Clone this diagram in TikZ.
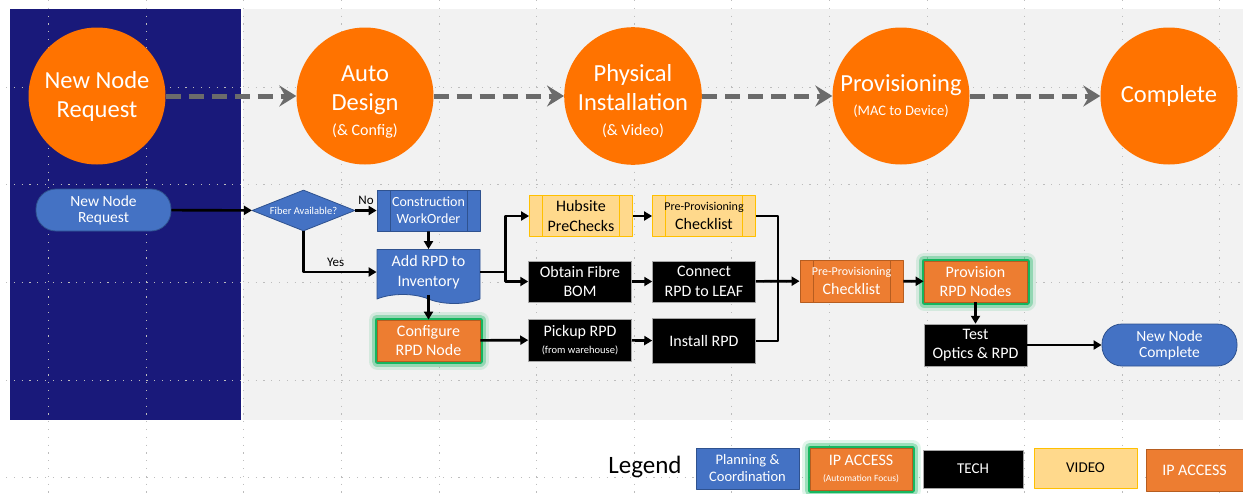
\documentclass[tikz,border=0pt]{standalone}
\usepackage{fontspec}
\setmainfont{Carlito}
\usepackage{tikz}
\usetikzlibrary{arrows.meta,positioning,calc,shapes.geometric,shapes.symbols}
\definecolor{stageorange}{HTML}{FF7300}
\definecolor{boxorange}{HTML}{ED7D31}
\definecolor{boxorangedark}{HTML}{B65D20}
\definecolor{flowblue}{HTML}{4472C4}
\definecolor{flowbluedark}{HTML}{2F528F}
\definecolor{videoyellow}{HTML}{FFD98C}
\definecolor{videoborder}{HTML}{FFC000}
\definecolor{glowgreen}{HTML}{00B050}
\definecolor{panelblue}{HTML}{19197A}
\definecolor{panelgray}{HTML}{F2F2F2}
\definecolor{dashgray}{HTML}{6B6B6B}
\definecolor{gridgray}{HTML}{BDBDBD}

\begin{document}
\begin{tikzpicture}[
			x=1pt,
			y=-1pt,
			line join=round,
			stage/.style={circle,fill=stageorange,text=white,minimum size=137pt,inner sep=0pt,align=center,font=\fontsize{24.5}{29}\selectfont},
			stagearrow/.style={dashgray,line width=5pt,dash pattern=on 15pt off 8pt,-{Stealth[length=17pt,width=21pt,inset=6pt]}},
			flowbox/.style={rectangle,inner sep=0pt,align=center,minimum width=103pt,minimum height=41pt,font=\fontsize{16}{19.5}\selectfont},
			planbox/.style={flowbox,fill=flowblue,draw=flowbluedark,line width=.8pt,text=white},
			techbox/.style={flowbox,fill=black,draw=gray!70,line width=.5pt,text=white},
			videobox/.style={flowbox,fill=videoyellow,draw=videoborder,line width=.8pt,text=black},
			ipbox/.style={flowbox,fill=boxorange,draw=boxorangedark,line width=.8pt,text=white},
			terminal/.style={flowbox,rounded corners=20pt,minimum width=135pt,minimum height=42pt,fill=flowblue,draw=flowbluedark,line width=.8pt,text=white,font=\fontsize{15.5}{16}\selectfont},
			glow/.style={preaction={draw=glowgreen,line width=17pt,opacity=.12},
				preaction={draw=glowgreen,line width=11pt,opacity=.3},
				preaction={draw=glowgreen,line width=5pt,opacity=.85}},
			bars/.style={path picture={
					\draw[#1,line width=1pt]
					([xshift=13pt]path picture bounding box.north west) -- ([xshift=13pt]path picture bounding box.south west)
					([xshift=-13pt]path picture bounding box.north east) -- ([xshift=-13pt]path picture bounding box.south east);}},
			small/.style={font=\fontsize{#1}{#1}\selectfont},
			flow/.style={line width=2.6pt,-{Triangle[length=8pt,width=9pt]}},
			wire/.style={line width=2.6pt}
			]
			
			\useasboundingbox (0,0) rectangle (1243,493);
			
			%------------------------------
			% Panels and dotted grid
			%------------------------------
			\fill[panelgray] (243,9) rectangle (1243,420);
			\fill[panelblue] (10,9) rectangle (241,420);
			
			\foreach \gx in {0,...,12}{
				\draw[gridgray,line width=.8pt,dash pattern=on 1.2pt off 6.6pt] ({48.5+97.6*\gx},0) -- ({48.5+97.6*\gx},493);
			}
			\foreach \gy in {0,...,4}{
				\draw[gridgray,line width=.8pt,dash pattern=on 1.2pt off 6.6pt] (6,{87+97.7*\gy}) -- (1243,{87+97.7*\gy});
			}
			
			%------------------------------
			% Stages
			%------------------------------
			\node[stage] (request) at (97,96) {New Node\\Request};
			\node[stage] (design) at (365,96) {\\[-2pt]Auto\\Design\\[-4pt]{\fontsize{16}{18}\selectfont(\& Config)}};
			\node[stage] (install_st) at (633,96) {\\[-2pt]Physical\\Installation\\[-4pt]{\fontsize{16}{18}\selectfont(\& Video)}};
			\node[stage] (provision_st) at (901,96) {Provisioning\\[-5pt]{\fontsize{14.5}{16}\selectfont(MAC to Device)}};
			\node[stage] (complete) at (1169,96) {Complete};
			
			\draw[stagearrow] (request) -- (design);
			\draw[stagearrow] (design) -- (install_st);
			\draw[stagearrow] (install_st) -- (provision_st);
			\draw[stagearrow] (provision_st) -- (complete);
			
			%------------------------------
			% Process flow
			%------------------------------
			\node[terminal] (newnode) at (103.5,210) {New Node\\Request};
			\node[diamond,aspect=2.5,inner sep=0pt,minimum width=103pt,minimum height=41pt,fill=flowblue,draw=flowbluedark,line width=.8pt,text=white,small=10.5] (fiber) at (303.5,210.5) {Fiber Available?};
			\node[planbox,bars=flowbluedark,font=\fontsize{14}{17}\selectfont] (workorder) at (428.5,210.5) {Construction\\WorkOrder};
			\node[planbox,tape,tape bend top=none,tape bend bottom=out and in,tape bend height=9pt,minimum height=54pt] (inventory) at (428.5,272) {Add RPD to\\Inventory};
			\node[ipbox,glow] (configure) at (428.5,340.5) {Configure\\RPD Node};
			
			\node[videobox,bars=videoborder] (hubsite) at (581,216) {Hubsite\\PreChecks};
			\node[videobox,bars=videoborder] (precheck_v) at (704,216) {{\fontsize{12}{13}\selectfont Pre-Provisioning}\\Checklist};
			\node[techbox] (fibrebom) at (580,281.5) {Obtain Fibre\\BOM};
			\node[techbox] (leaf) at (704,281.5) {Connect\\RPD to LEAF};
			\node[techbox,minimum height=42pt] (pickup) at (580,340) {Pickup RPD\\[-3pt]{\fontsize{10.5}{12}\selectfont(from warehouse)}};
			\node[techbox,minimum height=45pt] (installrpd) at (704,341) {Install RPD};
			
			\node[ipbox,bars=boxorangedark,minimum height=42pt] (precheck_ip) at (851.5,281) {{\fontsize{12}{13}\selectfont Pre-Provisioning}\\Checklist};
			\node[ipbox,glow] (provrpd) at (975.5,281.5) {Provision\\RPD Nodes};
			\node[techbox,minimum height=42pt] (testrpd) at (975.5,345) {Test\\Optics \& RPD};
			\node[terminal] (nodedone) at (1169.5,345) {New Node\\Complete};
			
			\draw[flow] (newnode) -- (fiber);
			\draw[flow] (fiber) -- node[above=1pt,small=13] (no_lbl) {No} (workorder);
			\draw[flow] (fiber.south) |- node[pos=.72,above=1pt,small=13] (yes_lbl) {Yes} (inventory.west);
			\draw[flow] (workorder) -- (inventory);
			\draw[flow] (inventory.south) -- (configure);
			
			\coordinate (split) at ($(inventory.east)+(25,0)$);
			\draw[wire] (inventory.east) -- (split);
			\draw[flow] (split) |- (hubsite.west);
			\draw[flow] (split) |- (fibrebom.west);
			\draw[flow] (configure) -- (pickup);
			\draw[flow] (hubsite) -- (precheck_v);
			\draw[flow] (fibrebom) -- (leaf);
			\draw[flow] (pickup) -- (installrpd);
			
			\coordinate (merge) at (778,281);
			\draw[wire] (precheck_v.east) -| (merge);
			\draw[wire] (installrpd.east) -| (merge);
			\draw[flow] (leaf) -- (precheck_ip);
			\draw[flow] (precheck_ip) -- (provrpd);
			\draw[flow] (provrpd) -- (testrpd);
			\draw[flow] (testrpd) -- (nodedone);
			
			%------------------------------
			% Legend
			%------------------------------
			\node[font=\fontsize{25}{30}\selectfont] (legend) at (645,467) {Legend};
			\node[planbox,font=\fontsize{14.5}{17}\selectfont] (leg_plan) at (747.5,468.5) {Planning \&\\Coordination};
			\node[ipbox,glow,minimum width=102pt,minimum height=42pt] (leg_auto) at (861,469) {IP ACCESS\\[-3pt]{\fontsize{9.5}{11}\selectfont(Automation Focus)}};
			\node[techbox,minimum width=100pt,minimum height=38pt,font=\fontsize{15}{17}\selectfont] (leg_tech) at (973,469) {TECH};
			\node[videobox,minimum height=40pt,font=\fontsize{15}{17}\selectfont] (leg_video) at (1085.5,468) {VIDEO};
			\node[ipbox,minimum width=97pt,minimum height=42pt] (leg_ip) at (1194.5,470) {IP ACCESS};
		\end{tikzpicture}
\end{document}
